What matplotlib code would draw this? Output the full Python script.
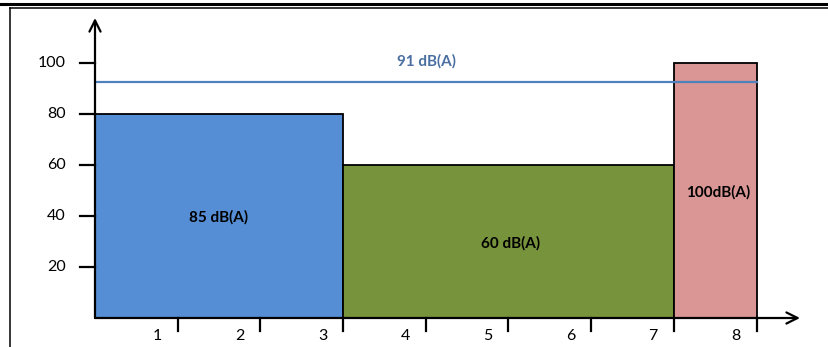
import matplotlib.pyplot as plt
from matplotlib.lines import Line2D

plt.rcParams['font.family'] = ['Lato', 'DejaVu Sans']

# noise exposure blocks (hours on x, level on y)
starts = [0, 3, 7]
widths = [3, 4, 1]
heights = [80, 60, 100]
colors = ['#558ED5', '#77933C', '#D99694']
labels = ['85 dB(A)', '60 dB(A)', '100dB(A)']
label_x = [1.5, 5.02, 7.53]
label_y = [39.6, 29.4, 49.4]
avg_level = 92.5
avg_label = '91 dB(A)'
yticks = [20, 40, 60, 80, 100]
xticks = [1, 2, 3, 4, 5, 6, 7, 8]

fig = plt.figure(figsize=(8.29, 3.47), dpi=100)
ax = fig.add_axes([95 / 829, 1 - 318 / 347, 705 / 829, 300 / 347])
ax.set_xlim(0, 705 / 82.7)
ax.set_ylim(0, 300 / 2.55)
for s in ax.spines.values():
    s.set_visible(False)
ax.set_xticks([])
ax.set_yticks([])

ax.bar(starts, heights, width=widths, align='edge', color=colors,
       edgecolor='black', linewidth=1.3, zorder=2)
for x, y, t in zip(label_x, label_y, labels):
    ax.text(x, y, t, ha='center', va='center', fontsize=11,
            fontweight='bold', color='black', zorder=4)

ax.plot([0, 8], [avg_level, avg_level], color='#4F81BD', lw=1.6, zorder=3)
ax.text(4.01, 100.8, avg_label, ha='center', va='center', fontsize=11,
        fontweight='bold', color='#4A6FA0')

# axes with arrow heads
xmax = ax.get_xlim()[1]
ymax = ax.get_ylim()[1]
ax.annotate('', xy=(xmax, 0), xytext=(0, 0), annotation_clip=False,
            arrowprops=dict(arrowstyle='->', lw=1.6, color='black',
                            mutation_scale=20, shrinkA=0, shrinkB=0), zorder=5)
ax.annotate('', xy=(0, ymax), xytext=(0, 0), annotation_clip=False,
            arrowprops=dict(arrowstyle='->', lw=1.6, color='black',
                            mutation_scale=20, shrinkA=0, shrinkB=0), zorder=5)

# tick marks and labels
px = 1 / 82.7
py = 1 / 2.55
for v in yticks:
    ax.plot([-15 * px, 0], [v, v], color='black', lw=1.6, clip_on=False)
    ax.text(-29 * px, v, str(v), ha='right', va='center', fontsize=11.5)
for v in xticks:
    ax.plot([v, v], [0, -13 * py], color='black', lw=1.6, clip_on=False)
    ax.text(v - 0.25, -18 * py, str(v), ha='center', va='center', fontsize=11.5)

# frame lines around the chart
fig.add_artist(Line2D([0, 1], [1 - 4 / 347, 1 - 4 / 347], color='black', lw=2.2))
fig.add_artist(Line2D([10 / 829, 1], [1 - 8 / 347, 1 - 8 / 347], color='black', lw=1.1))
fig.add_artist(Line2D([10 / 829, 10 / 829], [0, 1 - 8 / 347], color='black', lw=1.1))

fig.savefig('out.png', dpi=100)
